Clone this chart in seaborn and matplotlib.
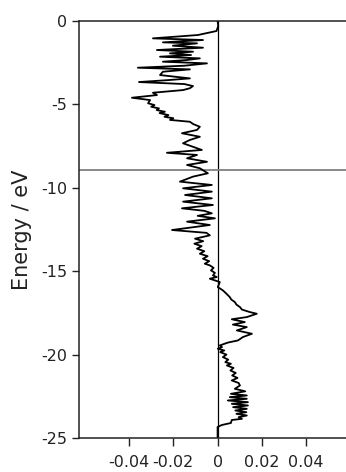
import numpy as np
import pandas as pd
import matplotlib
matplotlib.use("Agg")
import matplotlib.pyplot as plt
import seaborn as sns

# Energy (eV) and curve value
energy = [0.0, -0.3, -0.6, -0.84, -1.04, -1.14, -1.28, -1.34, -1.48, -1.6,
          -1.74, -1.84, -1.94, -2.04, -2.14, -2.24, -2.34, -2.44, -2.54, -2.68,
          -2.8, -2.9, -3.04, -3.24, -3.44, -3.54, -3.66, -3.78, -3.9, -4.03,
          -4.14, -4.3, -4.44, -4.6, -4.74, -4.93, -5.04, -5.14, -5.24, -5.34,
          -5.44, -5.52, -5.64, -5.74, -5.83, -5.93, -6.04, -6.18, -6.34, -6.53,
          -6.73, -6.94, -7.13, -7.33, -7.54, -7.73, -7.9, -8.03, -8.23, -8.44,
          -8.63, -8.83, -9.13, -9.33, -9.63, -9.83, -10.03, -10.23, -10.43, -10.63,
          -10.83, -11.03, -11.23, -11.38, -11.53, -11.68, -11.83, -12.03, -12.23, -12.53,
          -12.7, -12.85, -13.05, -13.2, -13.35, -13.5, -13.65, -13.8, -13.95, -14.1,
          -14.25, -14.4, -14.55, -14.65, -14.8, -14.95, -15.1, -15.25, -15.35, -15.45,
          -15.65, -15.95, -16.15, -16.35, -16.55, -16.7, -16.85, -17.0, -17.15, -17.3,
          -17.45, -17.55, -17.75, -17.88, -18.05, -18.2, -18.35, -18.55, -18.75, -18.95,
          -19.15, -19.28, -19.45, -19.55, -19.65, -19.75, -19.85, -20.0, -20.15, -20.3,
          -20.45, -20.55, -20.65, -20.8, -20.95, -21.1, -21.25, -21.4, -21.55, -21.7,
          -21.85, -22.05, -22.2, -22.35, -22.45, -22.55, -22.65, -22.75, -22.85, -22.95,
          -23.05, -23.15, -23.25, -23.35, -23.45, -23.55, -23.65, -23.75, -23.85, -23.92,
          -24.1, -24.22, -24.34, -25.0]
value = [0.0, 0.0003, -0.0005, -0.0089, -0.0292, -0.0066, -0.0247, -0.0093, -0.0202, -0.0066,
         -0.0274, -0.0111, -0.0215, -0.0120, -0.0260, -0.0080, -0.0140, -0.0247, -0.0048, -0.0150,
         -0.0360, -0.0125, -0.0247, -0.0260, -0.0125, -0.0220, -0.0355, -0.0150, -0.0111, -0.0125,
         -0.0156, -0.0292, -0.0274, -0.0387, -0.0305, -0.0314, -0.0285, -0.0300, -0.0265, -0.0275,
         -0.0238, -0.0262, -0.0222, -0.0240, -0.0200, -0.0215, -0.0125, -0.0110, -0.0080, -0.0093,
         -0.0161, -0.0080, -0.0125, -0.0156, -0.0111, -0.0071, -0.0229, -0.0093, -0.0138, -0.0048,
         -0.0138, -0.0080, -0.0044, -0.0111, -0.0170, -0.0026, -0.0156, -0.0026, -0.0147, -0.0026,
         -0.0156, -0.0021, -0.0161, -0.0060, -0.0026, -0.0090, -0.0012, -0.0138, -0.0035, -0.0206,
         -0.0050, -0.0035, -0.0102, -0.0065, -0.0105, -0.0072, -0.0093, -0.0060, -0.0080, -0.0045,
         -0.0066, -0.0038, -0.0058, -0.0035, -0.0018, -0.0030, -0.0012, -0.0021, -0.0004, -0.0035,
         0.0010, 0.0001, 0.0024, 0.0040, 0.0055, 0.0062, 0.0078, 0.0085, 0.0101, 0.0110,
         0.0146, 0.0177, 0.0132, 0.0064, 0.0123, 0.0069, 0.0132, 0.0087, 0.0155, 0.0114,
         0.0092, 0.0046, 0.0010, 0.0020, 0.0001, 0.0030, 0.0012, 0.0040, 0.0024, 0.0048,
         0.0035, 0.0060, 0.0042, 0.0072, 0.0058, 0.0082, 0.0066, 0.0090, 0.0064, 0.0095,
         0.0101, 0.0078, 0.0125, 0.0060, 0.0132, 0.0055, 0.0132, 0.0046, 0.0137, 0.0064,
         0.0137, 0.0070, 0.0132, 0.0080, 0.0130, 0.0085, 0.0132, 0.0095, 0.0110, 0.0064,
         0.0060, 0.0019, 0.0, 0.0]

x_ticks = [-0.04, -0.02, 0, 0.02, 0.04]
x_ticklabels = ["-0.04", "-0.02", "0", "0.02", "0.04"]
y_ticks = [0, -5, -10, -15, -20, -25]
y_ticklabels = ["0", "-5", "-10", "-15", "-20", "-25"]
fermi_level = -8.93

sns.set_style("ticks")
plt.rcParams["font.family"] = ["DejaVu Sans"]
plt.rcParams["axes.unicode_minus"] = False

fig = plt.figure(figsize=(3.46, 4.72), dpi=100)
ax = fig.add_axes([0.2283, 0.072, 0.7717, 0.8835])

df = pd.DataFrame({"value": value, "energy": energy})
sns.lineplot(data=df, x="value", y="energy", sort=False, estimator=None,
             color="black", linewidth=1.3, ax=ax)

ax.axvline(0, color="black", linewidth=0.9, zorder=1)
ax.axhline(fermi_level, color="#808080", linewidth=1.3, zorder=1)

ax.set_xlim(-0.0626, 0.058)
ax.set_ylim(-25, 0)
ax.set_xticks(x_ticks)
ax.set_xticklabels(x_ticklabels)
ax.set_yticks(y_ticks)
ax.set_yticklabels(y_ticklabels)
ax.set_xlabel("")
ax.set_ylabel("Energy / eV", fontsize=15, color="#222222")
ax.yaxis.set_label_coords(-0.175, 0.5)

for s in ["left", "bottom", "top"]:
    ax.spines[s].set_linewidth(1.1)
    ax.spines[s].set_color("#222222")
ax.spines["right"].set_visible(False)
ax.tick_params(axis="both", direction="out", labelsize=11.5, colors="#222222",
               width=1.0, length=5)
ax.tick_params(axis="x", length=6, pad=6)

fig.savefig("out.png", dpi=100)
